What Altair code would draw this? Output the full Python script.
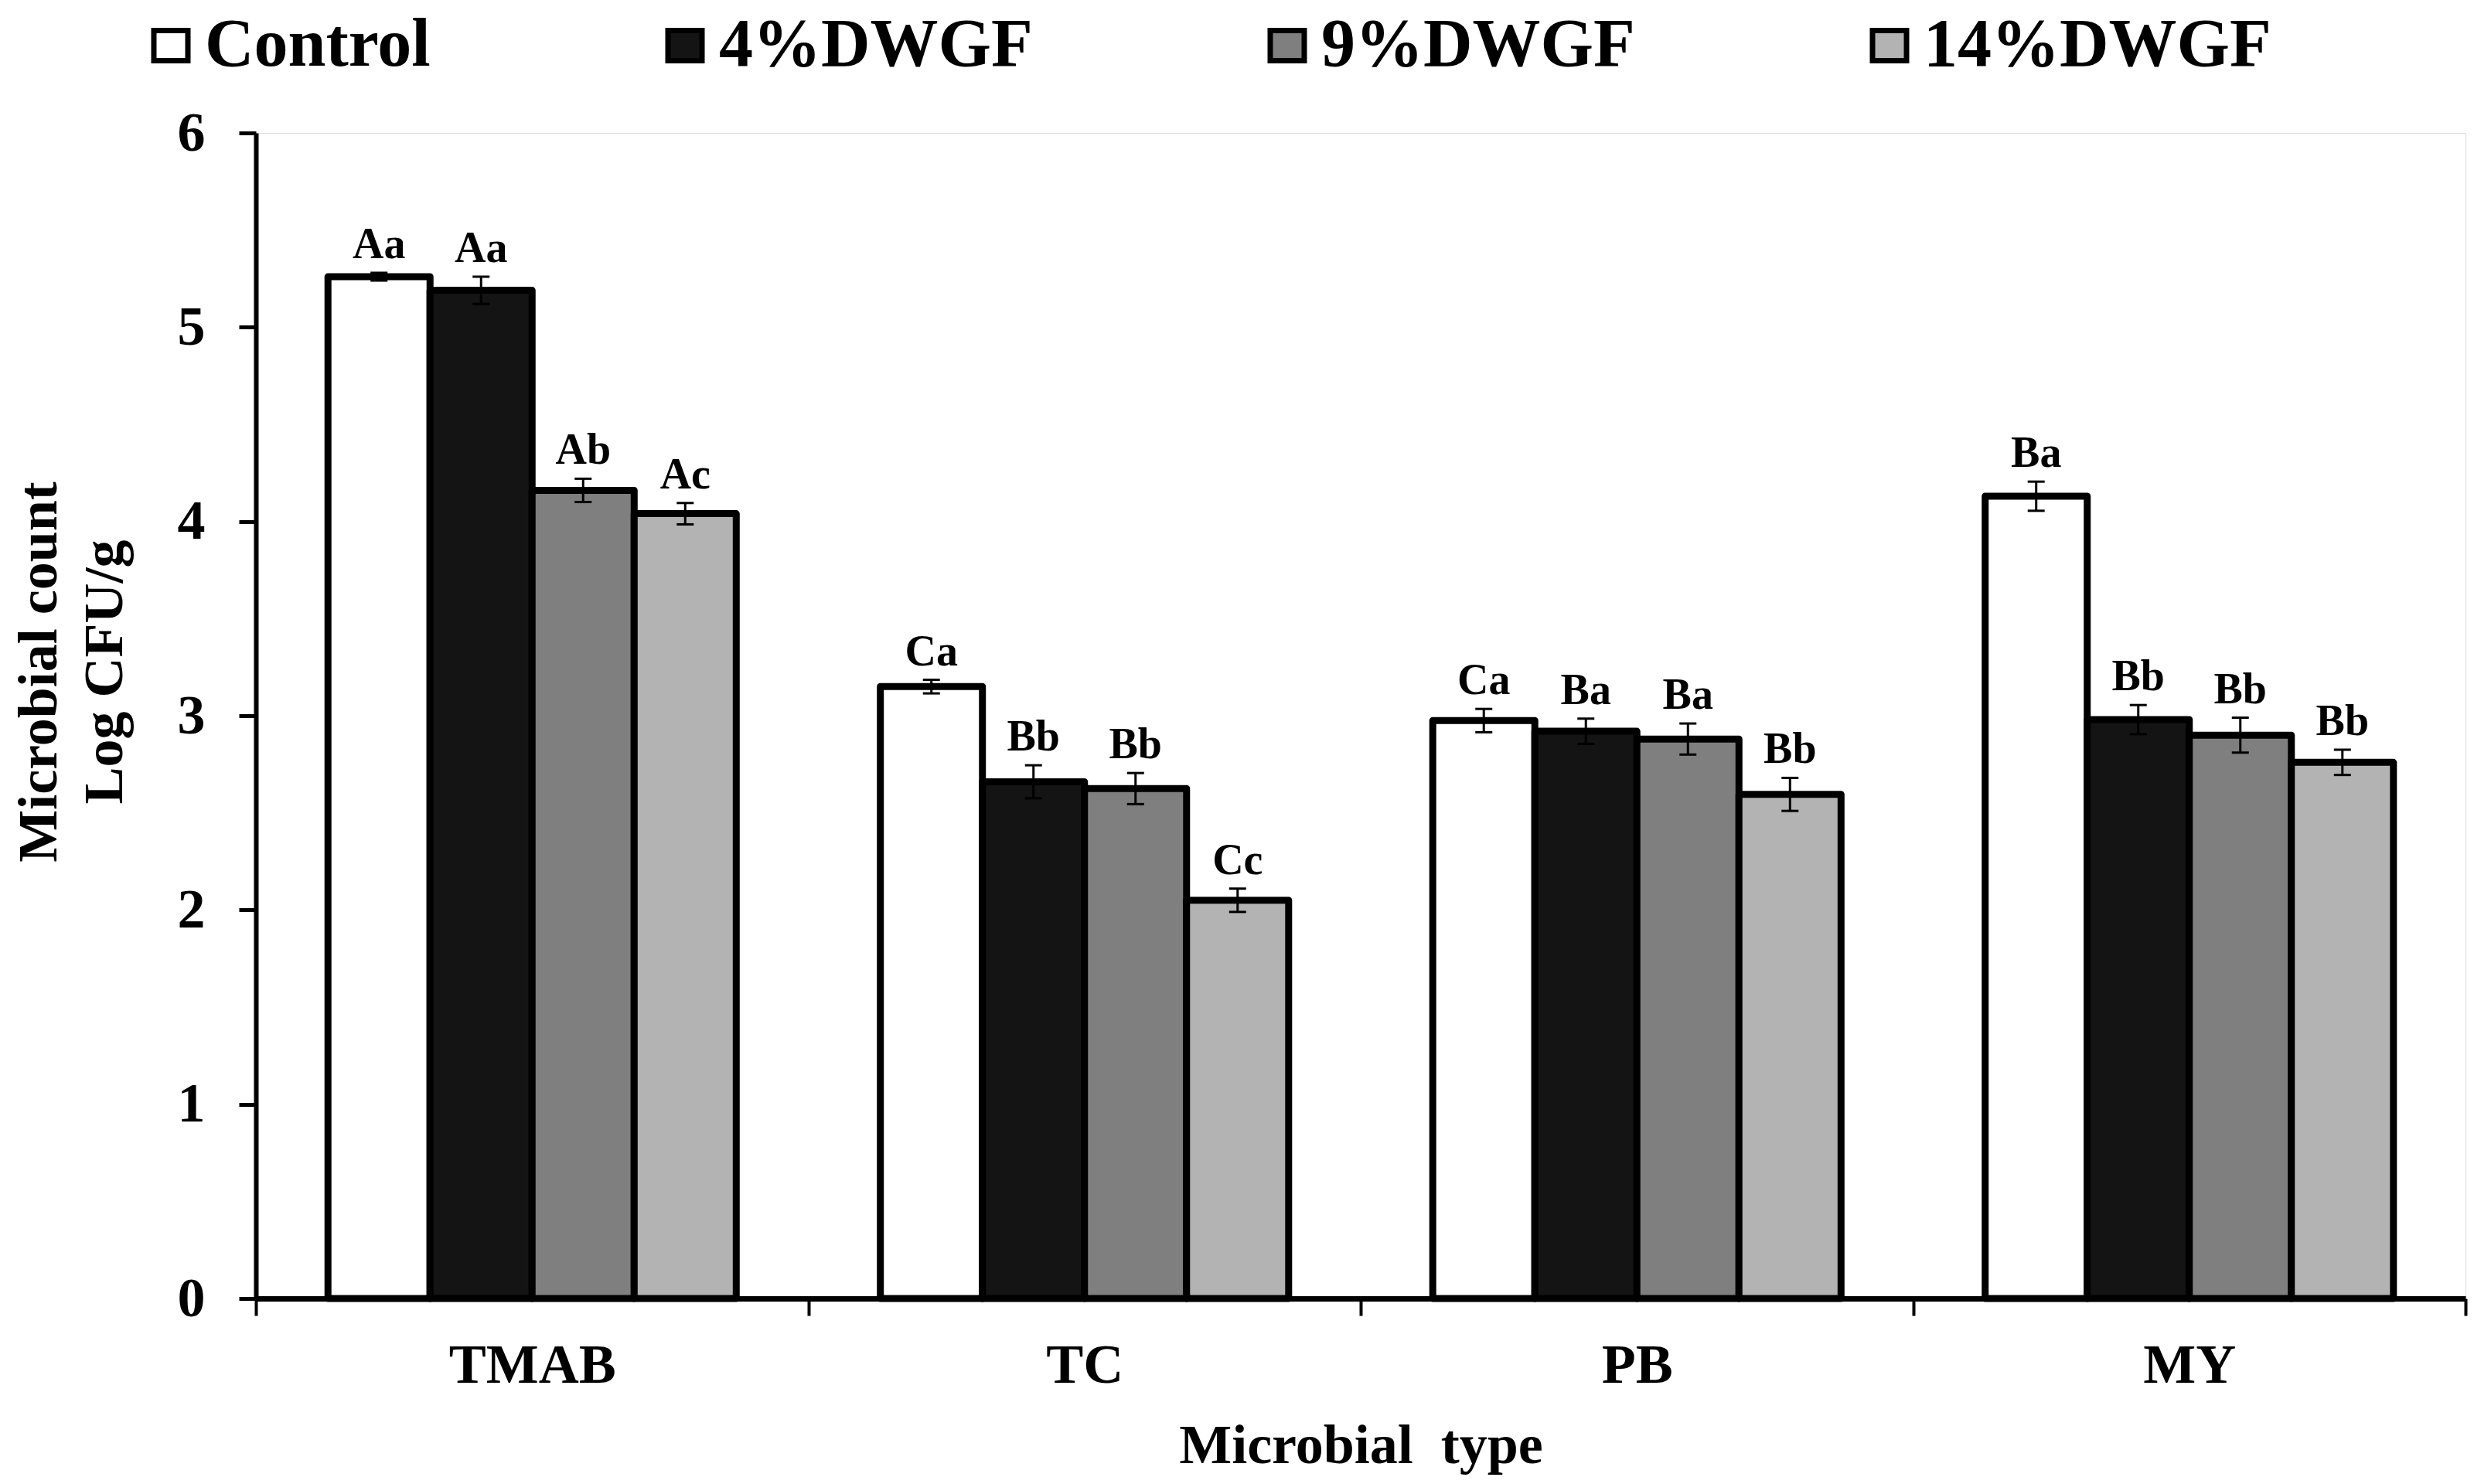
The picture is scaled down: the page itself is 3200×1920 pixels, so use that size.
import altair as alt
import pandas as pd

types = ["TMAB", "TC", "PB", "MY"]
treatments = ["Control", "4%DWGF", "9%DWGF", "14%DWGF"]

tmab_mean = [5.26, 5.19, 4.16, 4.04]
tc_mean = [3.15, 2.66, 2.625, 2.05]
pb_mean = [2.975, 2.92, 2.88, 2.595]
my_mean = [4.13, 2.98, 2.90, 2.76]

tmab_err = [0.02, 0.07, 0.06, 0.055]
tc_err = [0.035, 0.085, 0.08, 0.06]
pb_err = [0.06, 0.065, 0.08, 0.085]
my_err = [0.075, 0.075, 0.09, 0.065]

tmab_letters = ["Aa", "Aa", "Ab", "Ac"]
tc_letters = ["Ca", "Bb", "Bb", "Cc"]
pb_letters = ["Ca", "Ba", "Ba", "Bb"]
my_letters = ["Ba", "Bb", "Bb", "Bb"]

fills = ["#ffffff", "#141414", "#7f7f7f", "#b3b3b3"]
FONT = "Liberation Serif"

rows = []
for t, m, e, l in zip(types, [tmab_mean, tc_mean, pb_mean, my_mean],
                      [tmab_err, tc_err, pb_err, my_err],
                      [tmab_letters, tc_letters, pb_letters, my_letters]):
    for tr, mv, ev, lv in zip(treatments, m, e, l):
        rows.append({"type": t, "treatment": tr, "mean": mv,
                     "lo": mv - ev, "hi": mv + ev, "letter": lv})
df = pd.DataFrame(rows)

x_enc = alt.X("type:N", sort=types,
              scale=alt.Scale(paddingInner=0, paddingOuter=0),
              title="Microbial\u00a0 type",
              axis=alt.Axis(labelAngle=0, labelFont=FONT, labelFontSize=72,
                            labelFontWeight="bold", labelColor="black",
                            labelPadding=29, labelLimit=0, tickSize=22,
                            tickWidth=4, tickColor="black",
                            domainColor="black", domainWidth=7,
                            tickBand="extent",
                            titleFont=FONT, titleFontSize=72,
                            titleFontWeight="bold", titleColor="black",
                            titleY=212, titleBaseline="alphabetic"))
xoff_enc = alt.XOffset("treatment:N", sort=treatments,
                       scale=alt.Scale(paddingInner=0, paddingOuter=0.706))

base = alt.Chart(df).encode(x=x_enc, xOffset=xoff_enc)

bars = base.mark_bar(stroke="black", strokeWidth=9, strokeJoin="round",
                     opacity=1).encode(
    y=alt.Y("mean:Q", scale=alt.Scale(domain=[0, 6], nice=False),
            title=["Microbial count", "Log CFU/g"],
            axis=alt.Axis(values=[0, 1, 2, 3, 4, 5, 6], format="d",
                          grid=False,
                          labelFont=FONT, labelFontSize=72,
                          labelFontWeight="bold", labelColor="black",
                          labelPadding=44, tickSize=22, tickWidth=5,
                          tickColor="black", domainColor="black",
                          domainWidth=6, titleFont=FONT, titleFontSize=72,
                          titleFontWeight="bold", titleColor="black",
                          titleAngle=270, titleX=-259, titleY=697,
                          titleAlign="center", titleBaseline="alphabetic",
                          titleLineHeight=85)),
    color=alt.Color("treatment:N", sort=treatments,
                    scale=alt.Scale(domain=treatments, range=fills),
                    legend=alt.Legend(title=None, orient="none",
                                      legendX=-154, legendY=-157,
                                      direction="horizontal", columns=4,
                                      columnPadding=285, padding=0,
                                      symbolType="M-1,-0.886H1V0.886H-1Z",
                                      symbolSize=1936, symbolStrokeWidth=7,
                                      symbolStrokeColor="black",
                                      symbolOpacity=1,
                                      labelFont=FONT, labelFontSize=88,
                                      labelFontWeight="bold",
                                      labelColor="black", labelOffset=0,
                                      labelLimit=0)),
)

rules = base.mark_rule(color="black", strokeWidth=3).encode(
    y="lo:Q", y2="hi:Q")
caps_hi = base.mark_tick(color="black", thickness=3, size=22,
                         opacity=1).encode(y="hi:Q")
caps_lo = base.mark_tick(color="black", thickness=3, size=22,
                         opacity=1).encode(y="lo:Q")
labels = base.mark_text(dy=-19, baseline="alphabetic", align="center",
                        font=FONT, fontSize=56, fontWeight="bold",
                        color="black").encode(y="hi:Q", text="letter:N")

chart = alt.layer(bars, rules, caps_hi, caps_lo, labels).properties(
    width=2858, height=1508,
    padding={"left": 323, "top": 164, "right": 3, "bottom": 230},
    autosize=alt.AutoSizeParams(type="none"),
).configure_view(stroke=None).configure(background="white")

chart.save("out.html", embed_options={"renderer": "svg", "actions": False})
